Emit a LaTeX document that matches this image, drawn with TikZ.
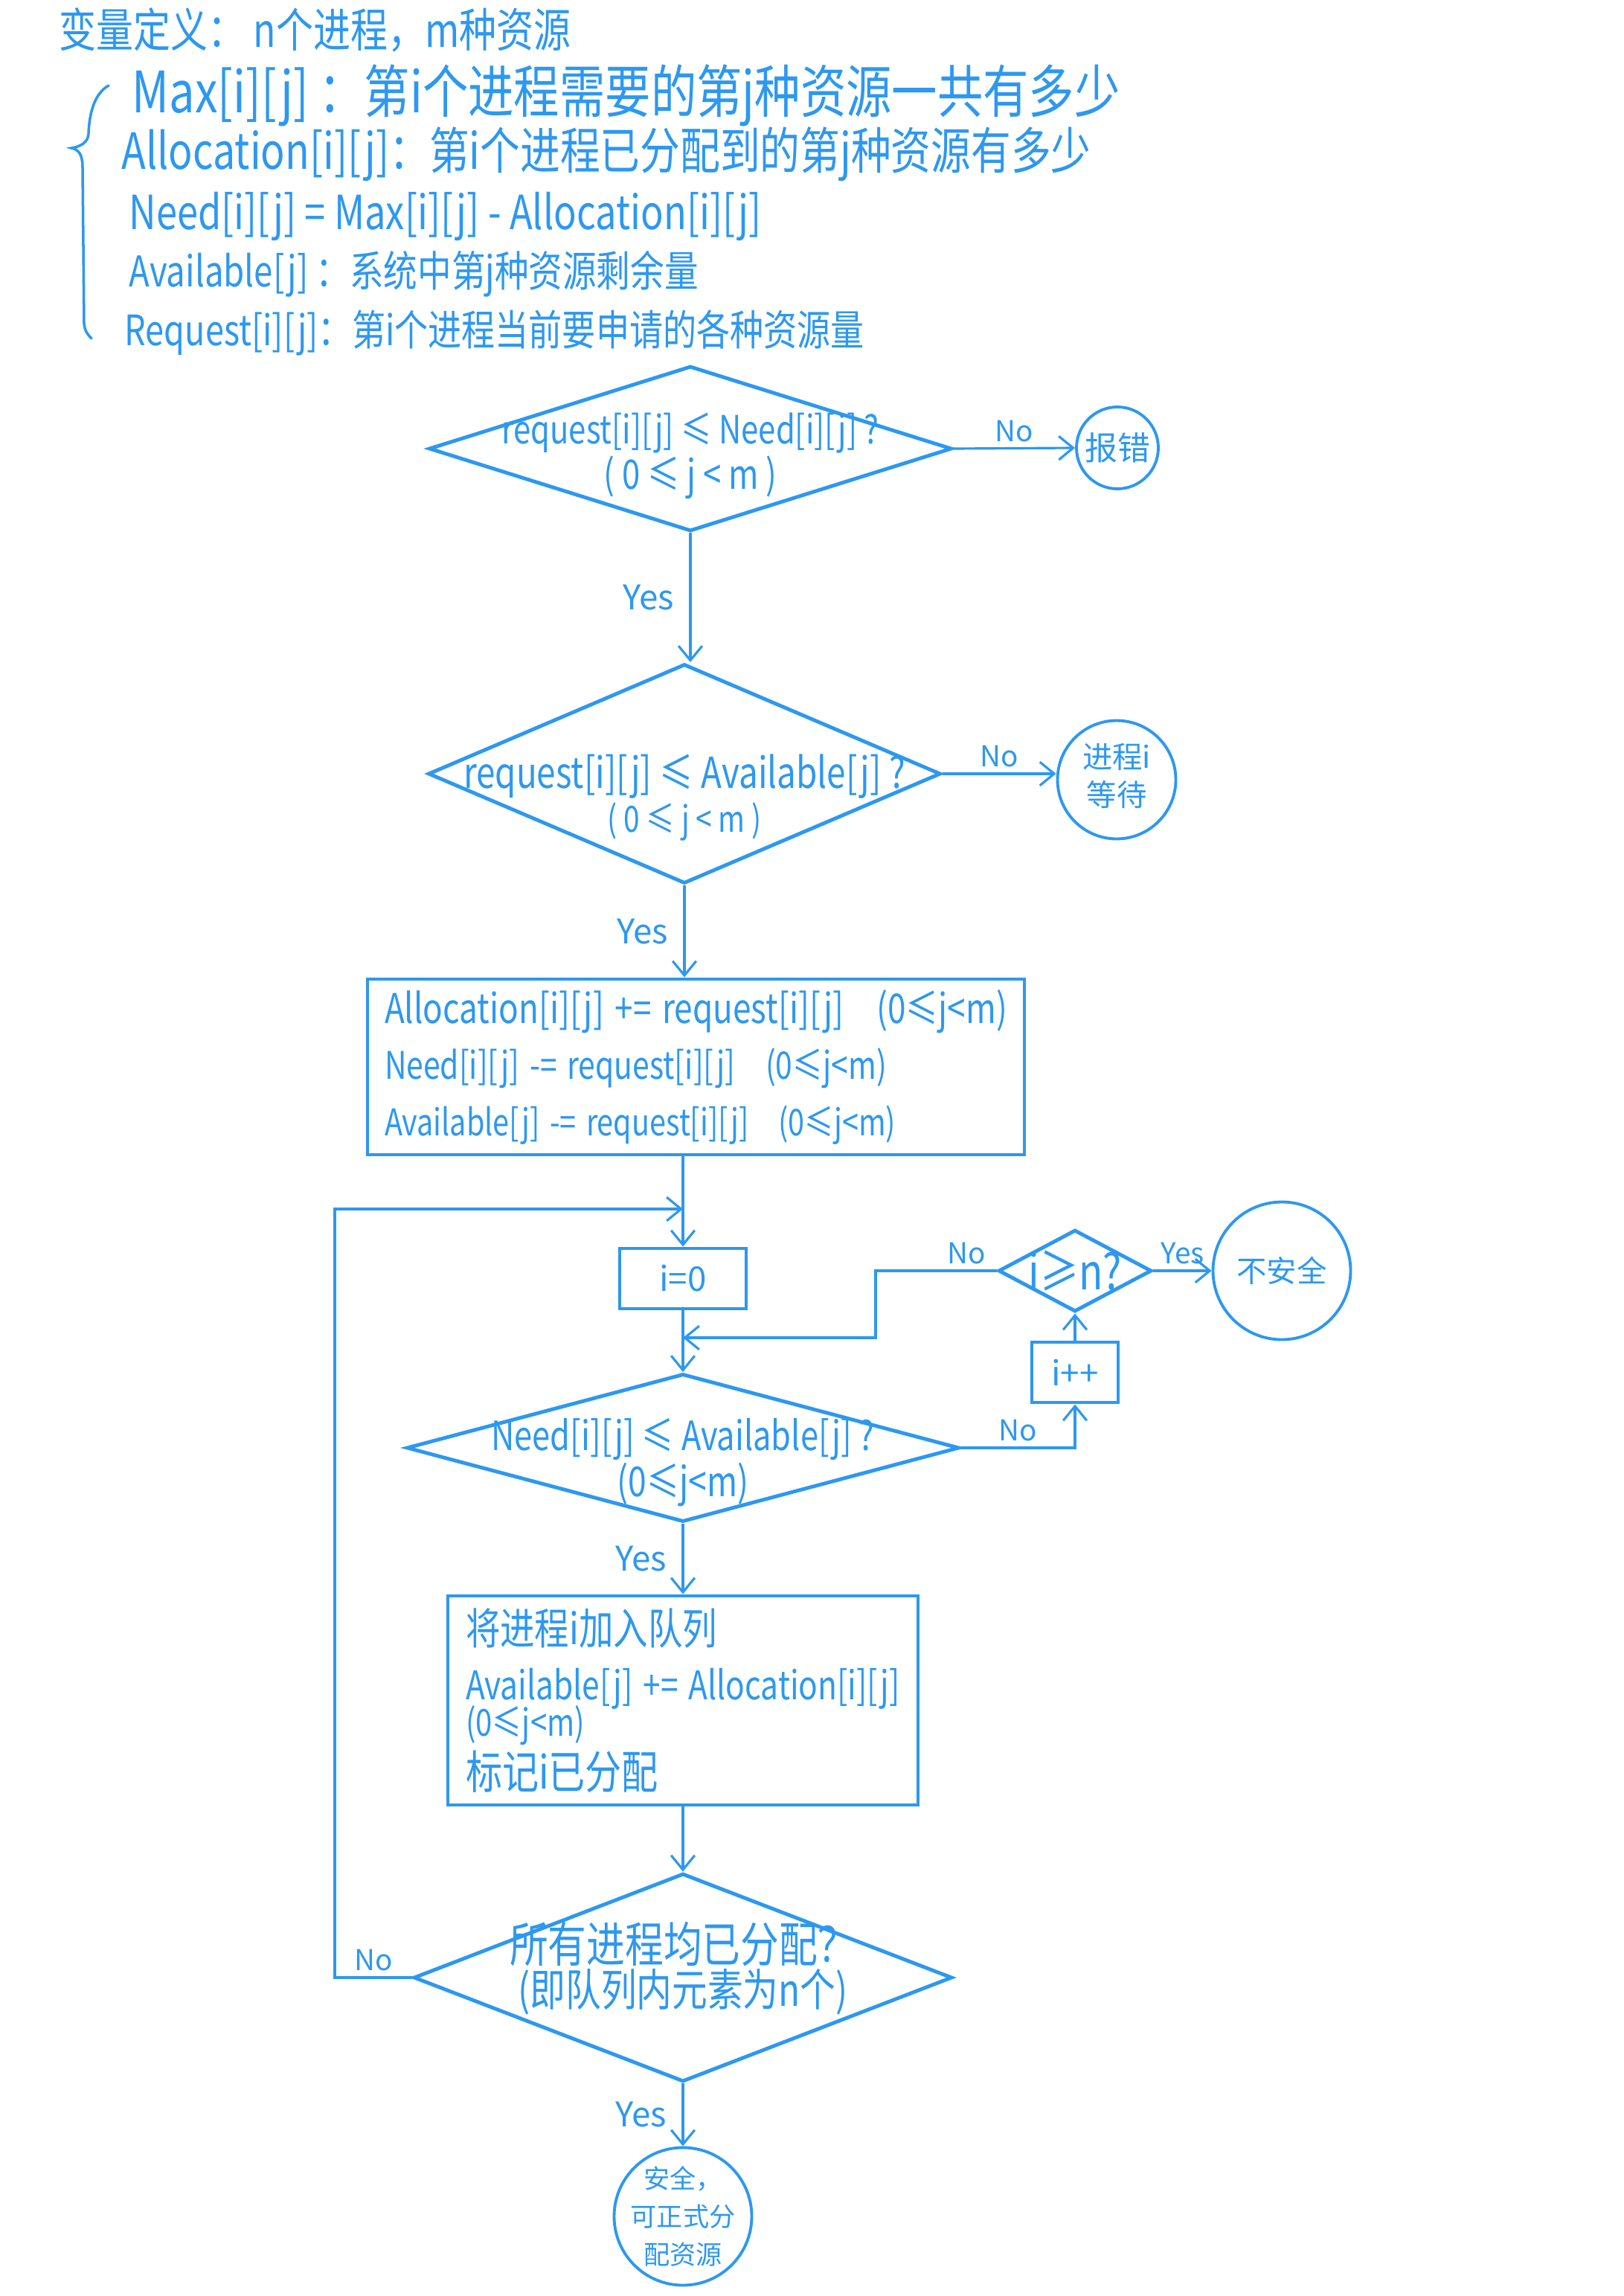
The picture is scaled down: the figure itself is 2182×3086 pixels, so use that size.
\documentclass[tikz,border=0pt]{standalone}
\usepackage{fontspec}
\setmainfont{Noto Sans CJK SC}
\usepackage{graphicx}
\usetikzlibrary{arrows.meta,shapes.geometric,calc}
\definecolor{ink}{HTML}{2D98F0}
\newlength\pxu \setlength\pxu{0.1mm}
% scale one line of text to a given width (in units of 0.1mm), a little taller than wide
\newcommand\fitw[2]{\scalebox{1}[1.25]{\resizebox{#1\pxu}{!}{#2}}}

\tikzset{
  every node/.style={text=ink},
  shapeline/.style={draw=ink, line width=1.4pt},
  conn/.style={draw=ink, line width=0.9pt, -{Straight Barb[length=5.5pt,width=9pt]}},
  plain/.style={draw=ink, line width=1pt, line cap=round},
  dia/.style={shapeline, shape=diamond, inner sep=0pt},
  box/.style={shapeline, rectangle, inner sep=0pt},
  ring/.style={draw=ink, line width=1.1pt, circle, inner sep=0pt},
  hdr/.style={anchor=west, inner sep=0pt},
  noL/.style={font=\fontsize{11}{13}\selectfont, inner sep=2pt},
  yesL/.style={font=\fontsize{13}{15}\selectfont, inner sep=3pt},
  dtext/.style={align=center, inner sep=0pt},
}

\begin{document}
\begin{tikzpicture}[x=0.1mm, y=-0.1mm]
\fill[white] (0,0) rectangle (2182,3086);
\useasboundingbox (0,0) rectangle (2182,3086);

% ---- variable definitions ----
\node[hdr] (h0) at (79,40)  {\fitw{688}{变量定义： n个进程，m种资源}};
\node[hdr] (h1) at (177,128) {\fitw{1328}{Max[i][j] ：第i个进程需要的第j种资源一共有多少}};
\node[hdr] (h2) at (163,207) {\fitw{1303}{Allocation[i][j]：第i个进程已分配到的第j种资源有多少}};
\node[hdr] (h3) at (173,291) {\fitw{850}{Need[i][j] = Max[i][j] - Allocation[i][j]}};
\node[hdr] (h4) at (173,368) {\fitw{765}{Available[j] ：系统中第j种资源剩余量}};
\node[hdr] (h5) at (167,447) {\fitw{994}{Request[i][j]：第i个进程当前要申请的各种资源量}};
\draw[plain] (146,115) .. controls (128,125) and (120,150) .. (119,180)
  .. controls (118,192) and (108,197) .. (96,199)
  .. controls (106,201) and (111,208) .. (111,225) -- (113,435)
  .. controls (114,445) and (118,450) .. (123,455);

% ---- request checks ----
\node[dia, minimum width=70.3mm, minimum height=22.2mm,
  label={[dtext, yshift=-1mm, font=\fontsize{13}{15.4}\selectfont]center:{\fitw{507}{request[i][j] ≤ Need[i][j] ?}\\\fitw{233}{( 0 ≤ j < m )}}}]
  (d1) at (928,603) {};
\node[ring, minimum size=11mm,
  label={[font=\fontsize{12.5}{14}\selectfont]center:{报错}}] (err) at (1502,602) {};

\node[dia, minimum width=68.9mm, minimum height=29.5mm,
  label={[dtext, yshift=-3.2mm, font=\fontsize{13}{16.8}\selectfont]center:{\fitw{594}{request[i][j] ≤ Available[j] ?}\\\fitw{207}{( 0 ≤ j < m )}}}]
  (d2) at (920,1040) {};
\node[ring, minimum size=15.9mm,
  label={[dtext, yshift=0.5mm, font=\fontsize{11.5}{14.5}\selectfont]center:{进程i\\等待}}] (wait) at (1501,1048) {};

\node[box, text width=83.7mm, inner xsep=2.3mm, minimum height=23.6mm, align=left,
  font=\fontsize{13}{21.5}\selectfont] (box1) at (935.5,1434)
  {\fitw{837}{Allocation[i][j] += request[i][j]\quad(0≤j<m)}\\
   \fitw{675}{Need[i][j] -= request[i][j]\quad(0≤j<m)}\\
   \fitw{687}{Available[j] -= request[i][j]\quad(0≤j<m)}};

% ---- safety loop ----
\node[box, minimum width=17mm, minimum height=8.1mm, font=\fontsize{13}{15}\selectfont] (i0) at (918,1718.5) {i=0};
\coordinate (join) at (918,1625);
\coordinate (rejoin) at (918,1798);
\coordinate (elbow) at (1177,0);
\coordinate (loopcol) at (450,0);

\node[dia, minimum width=74.3mm, minimum height=19.9mm,
  label={[dtext, yshift=-2mm, font=\fontsize{13}{14.5}\selectfont]center:{\fitw{515}{Need[i][j] ≤ Available[j] ?}\\\fitw{177}{(0≤j<m)}}}]
  (d3) at (918,1946) {};

\node[box, minimum width=11.6mm, minimum height=8.1mm, font=\fontsize{13}{15}\selectfont] (ipp) at (1445,1844.5) {i++};
\node[dia, minimum width=20.6mm, minimum height=11mm,
  label={[inner sep=0pt]center:{\fitw{125}{i≥n?}}}] (ineq) at (1445,1708) {};
\node[ring, minimum size=18.5mm,
  label={[font=\fontsize{11.5}{13}\selectfont]center:{不安全}}] (unsafe) at (1723,1708) {};

\node[box, text width=58.4mm, inner xsep=2.4mm, minimum height=28.1mm, align=left,
  font=\fontsize{13}{21.3}\selectfont] (box2) at (918,2285.5)
  {\fitw{338}{将进程i加入队列}\\
   \fitw{584}{Available[j] += Allocation[i][j]}\\[-2.6mm]
   \fitw{160}{(0≤j<m)}\\[-0.4mm]
   \fitw{259}{标记i已分配}};

\node[dia, minimum width=72.4mm, minimum height=28mm,
  label={[dtext, yshift=1.2mm, font=\fontsize{13}{16.8}\selectfont]center:{\fitw{466}{所有进程均已分配？}\\\fitw{443}{(即队列内元素为n个)}}}]
  (d4) at (918,2658) {};
\node[ring, minimum size=18.5mm,
  label={[dtext, font=\fontsize{10}{14.5}\selectfont]center:{安全，\\可正式分\\配资源}}] (safe) at (918,2979) {};

% ---- connectors ----
\draw[conn] (d1.east) -- node[noL, above] (n1) {No} (err.west);
\draw[conn] (d1.south) -- node[yesL, left, xshift=-1mm] (y1) {Yes} (d1.south |- d2.north);
\draw[conn] (d2.east) -- node[noL, above] (n2) {No} (d2.east -| wait.west);
\draw[conn] (d2.south) -- node[yesL, left, xshift=-1mm] (y2) {Yes} (d2.south |- box1.north);
\draw[conn] (box1.south -| i0.north) -- (i0.north);
\draw[conn] (i0.south) -- (i0.south |- d3.north);
\draw[conn] (d3.east) -- node[noL, above] (n4) {No} (d3.east -| ipp.south) -- (ipp.south);
\draw[conn] (ipp.north) -- (ineq.south);
\draw[conn] (ineq.west) -- node[noL, above, pos=0.25] (n3) {No} (ineq.west -| elbow) |- (rejoin);
\draw[conn] (ineq.east) -- node[noL, above] (y3) {Yes} (unsafe.west);
\draw[conn] (d3.south) -- node[yesL, left, xshift=-1mm] (y4) {Yes} (d3.south |- box2.north);
\draw[conn] (box2.south -| d4.north) -- (d4.north);
\draw[conn] (d4.south) -- node[yesL, left, xshift=-1mm] (y5) {Yes} (d4.south |- safe.north);
\draw[conn] (d4.west) -- node[noL, above] (n5) {No} (d4.west -| loopcol) |- (join);
\end{tikzpicture}
\end{document}
